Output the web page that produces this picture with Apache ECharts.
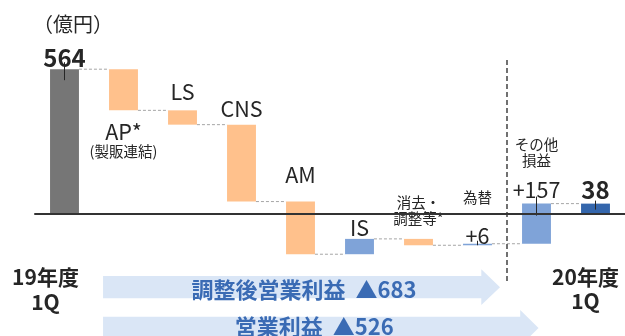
<!DOCTYPE html>
<html>
<head>
<meta charset="utf-8">
<script src="https://cdn.jsdelivr.net/npm/echarts@6/dist/echarts.min.js"></script>
<style>
  html, body { margin: 0; padding: 0; background: #ffffff; }
  #chart { width: 625px; height: 336px; }
</style>
</head>
<body>
<div id="chart"></div>
<script>
// ---- data (億円) ----
const categoryLines = [
  ['19年度', '1Q'], ['AP*', '(製販連結)'], ['LS'], ['CNS'], ['AM'], ['IS'],
  ['消去・', '調整等*'], ['為替'], ['その他', '損益'], ['20年度', '1Q']
];
const startValue = 564;
const deltas = [-161, -56, -301, -206, 60, -25, 6, 157];
const endValue = 38;
const valueLabels = ['564', '', '', '', '', '', '', '+6', '+157', '38'];
const summaryLabels = ['調整後営業利益  ▲683', '営業利益  ▲526'];
const unitLabel = '（億円）';

// ---- styling ----
const FONT = '"Noto Sans CJK JP", "Noto Sans", sans-serif';
const TEXT = '#262626';
const COLORS = { start: '#767676', down: '#FFC18C', up: '#7FA3D8', end: '#3466AC' };
const BAR_RATIO = 0.49;

// where each category's text lines sit (pixel offsets from the bar edge)
const nameLayout = [
  { anchor: 'fixed', y: [277, 302], dx: -19, size: [21, 21], weight: 'bold' },
  { anchor: 'bottom', dy: [21.5, 41], size: [21.5, 14.5] },
  { anchor: 'top', dy: [-18.5], size: [21.5] },
  { anchor: 'top', dy: [-16], size: [21.5] },
  { anchor: 'top', dy: [-27], size: [21.5] },
  { anchor: 'top', dy: [-11], size: [21.5] },
  { anchor: 'top', dy: [-36, -20], size: [14.5, 14.5] },
  { anchor: 'top', dy: [-46], size: [14.5] },
  { anchor: 'top', dy: [-59.5, -43], size: [14.5, 14.5] },
  { anchor: 'fixed', y: [277, 301], dx: -10, size: [21, 21], weight: 'bold' }
];
const valueLayout = {
  0: { dy: -11, size: 24, weight: 'bold', lead: [-7, 11] },
  7: { dy: -8, size: 21.5, weight: 'normal', lead: [-3, 1.5] },
  8: { dy: -14, size: 21.5, weight: 'normal', lead: [-7, 12] },
  9: { dy: -14, size: 24, weight: 'bold', lead: [-3, 6] }
};

// ---- waterfall rows: [index, from, to, kind] ----
const rows = [];
let level = startValue;
rows.push([0, 0, startValue, 'start']);
deltas.forEach((d, k) => {
  rows.push([k + 1, level, level + d, d < 0 ? 'down' : 'up']);
  level += d;
});
rows.push([deltas.length + 1, 0, endValue, 'end']);

function text(x, y, str, size, weight, align) {
  return {
    type: 'text', x: x, y: y, z2: 20,
    style: {
      text: str, fill: TEXT, fontFamily: FONT, fontSize: size,
      fontWeight: weight || 'normal', align: align || 'center', verticalAlign: 'middle'
    }
  };
}

function renderStep(params, api) {
  const i = api.value(0);
  const from = api.value(1), to = api.value(2);
  const kind = rows[i][3];
  const pFrom = api.coord([i, from]);
  const pTo = api.coord([i, to]);
  const bw = api.size([1, 0])[0] * BAR_RATIO;
  const top = Math.min(pFrom[1], pTo[1]);
  const bottom = Math.max(pFrom[1], pTo[1]);
  const cx = pFrom[0];
  const children = [{
    type: 'rect',
    shape: { x: cx - bw / 2, y: top, width: bw, height: bottom - top },
    style: { fill: COLORS[kind] }
  }];
  // dashed connector to the next step
  if (i < rows.length - 1) {
    const pNext = api.coord([i + 1, to]);
    children.push({
      type: 'line',
      shape: { x1: cx + bw / 2, y1: pTo[1], x2: pNext[0] - bw / 2, y2: pTo[1] },
      style: { stroke: '#A6A6A6', lineWidth: 1, lineDash: [3, 2] }
    });
  }
  // category names
  const nl = nameLayout[i];
  categoryLines[i].forEach((ln, k) => {
    let y;
    if (nl.anchor === 'fixed') y = nl.y[k];
    else if (nl.anchor === 'bottom') y = bottom + nl.dy[k];
    else y = top + nl.dy[k];
    children.push(text(cx + (nl.dx || 0), y, ln, nl.size[k], nl.weight));
  });
  // value labels with a short leader line through the bar's end
  const vl = valueLayout[i];
  if (vl && valueLabels[i]) {
    const endY = pTo[1];
    children.push({
      type: 'line', z2: 15,
      shape: { x1: cx, y1: endY + vl.lead[0], x2: cx, y2: endY + vl.lead[1] },
      style: { stroke: '#262626', lineWidth: 1 }
    });
    children.push(text(cx, top + vl.dy, valueLabels[i], vl.size, vl.weight));
  }
  return { type: 'group', children: children };
}

const chart = echarts.init(document.getElementById('chart'), null, { renderer: 'canvas' });
chart.setOption({
  animation: false,
  backgroundColor: '#ffffff',
  grid: { left: 35, top: 60, width: 592, height: 276 },
  xAxis: {
    type: 'category',
    data: categoryLines.map(l => l.join('')),
    z: 10,
    axisLine: { show: true, onZero: true, lineStyle: { color: '#333333', width: 2 } },
    axisTick: { show: false },
    axisLabel: { show: false },
    splitLine: { show: false }
  },
  yAxis: { type: 'value', min: -480, max: 600, show: false, splitLine: { show: false } },
  series: [{
    type: 'custom',
    renderItem: renderStep,
    encode: { x: 0, y: [1, 2] },
    data: rows.map(r => [r[0], r[1], r[2]]),
    clip: false
  }]
});

// ---- summary arrows, divider and unit, placed from the category scale ----
const xAt = i => chart.convertToPixel({ gridIndex: 0 }, [i, 0])[0];
const band = xAt(1) - xAt(0);
const barW = band * BAR_RATIO;
const arrowStart = xAt(1) - barW / 2 - 6;
const divider = (xAt(7) + xAt(8)) / 2;
const arrows = [
  { tip: divider - 7, head: 18.7, body: [276, 298.3], headY: [269.3, 305], textY: 290, textDx: 2.5 },
  { tip: xAt(8) + 2, head: 18.3, body: [316.7, 339.3], headY: [310, 346], textY: 327, textDx: -6.5 }
];
const graphics = [];
arrows.forEach((a, k) => {
  const hb = a.tip - a.head;
  const mid = (a.headY[0] + a.headY[1]) / 2;
  graphics.push({
    type: 'polygon', z: 1,
    shape: { points: [
      [arrowStart, a.body[0]], [hb, a.body[0]], [hb, a.headY[0]], [a.tip, mid],
      [hb, a.headY[1]], [hb, a.body[1]], [arrowStart, a.body[1]]
    ] },
    style: { fill: '#DAE6F6' }
  });
  graphics.push({
    type: 'text', z: 2,
    x: (arrowStart + a.tip) / 2 + a.textDx, y: a.textY,
    style: {
      text: summaryLabels[k], fill: '#3A6BB4', fontFamily: FONT, fontSize: 22,
      fontWeight: 'bold', align: 'center', verticalAlign: 'middle'
    }
  });
});
graphics.push({
  type: 'line', z: 3,
  shape: { x1: divider, y1: 60, x2: divider, y2: 283 },
  style: { stroke: '#262626', lineWidth: 1.3, lineDash: [5, 3] }
});
graphics.push({
  type: 'text', z: 3, x: 33, y: 24,
  style: { text: unitLabel, fill: TEXT, fontFamily: FONT, fontSize: 20, align: 'left', verticalAlign: 'middle' }
});
chart.setOption({ graphic: graphics });
</script>
</body>
</html>
